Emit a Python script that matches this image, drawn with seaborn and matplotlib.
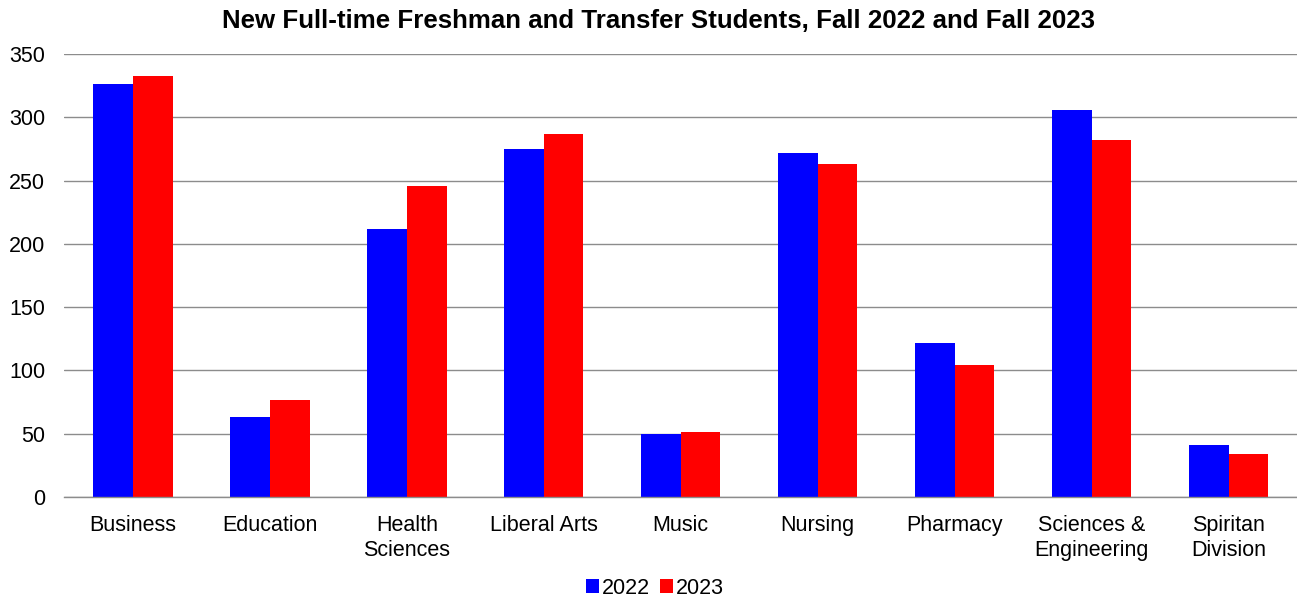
import matplotlib
matplotlib.use("Agg")
import matplotlib.pyplot as plt
import seaborn as sns
import pandas as pd
import numpy as np

categories = ["Business", "Education", "Health\nSciences", "Liberal Arts", "Music",
              "Nursing", "Pharmacy", "Sciences &\nEngineering", "Spiritan\nDivision"]
values_2022 = [326, 63, 212, 275, 50, 272, 122, 306, 41]
values_2023 = [333, 77, 246, 287, 51, 263, 104, 282, 34]
series_names = ["2022", "2023"]
colors = ["#0000FF", "#FF0000"]
yticks = [0, 50, 100, 150, 200, 250, 300, 350]
title = "New Full-time Freshman and Transfer Students, Fall 2022 and Fall 2023"

df = pd.DataFrame({
    "category": categories * 2,
    "value": values_2022 + values_2023,
    "year": [series_names[0]] * len(categories) + [series_names[1]] * len(categories),
})

sns.set_theme(style="white")
plt.rcParams["font.family"] = ["Liberation Sans", "DejaVu Sans"]
plt.rcParams["text.color"] = "black"
plt.rcParams["xtick.color"] = "black"
plt.rcParams["ytick.color"] = "black"
plt.rcParams["xtick.labelcolor"] = "black"
plt.rcParams["ytick.labelcolor"] = "black"

fig = plt.figure(figsize=(12.97, 5.97), dpi=100)
ax = fig.add_axes([0.0497, 0.1675, 0.9503, 0.742])

sns.barplot(data=df, x="category", y="value", hue="year", palette=colors,
            width=0.58, gap=0, saturation=1, ax=ax, legend=True, linewidth=0)

ax.set_xlim(-0.5, len(categories) - 0.5)
ax.set_ylim(0, 350)
ax.set_yticks(yticks)
ax.set_yticklabels([str(t) for t in yticks], fontsize=15.5)
ax.yaxis.grid(True, color="#8c8c8c", linewidth=1.0)
ax.set_axisbelow(True)
ax.tick_params(axis="y", length=0, pad=14)
ax.set_xticks(range(len(categories)))
ax.set_xticklabels(categories, fontsize=15.5, linespacing=1.25)
ax.tick_params(axis="x", which="major", length=0, pad=13)
ax.set_xticks(np.arange(-0.5, len(categories), 1.0), minor=True)
ax.tick_params(axis="x", which="minor", length=6, color="#8c8c8c", width=1, direction="out")
ax.set_xlabel("")
ax.set_ylabel("")
for s in ["left", "top", "right"]:
    ax.spines[s].set_visible(False)
ax.spines["bottom"].set_color("#8c8c8c")
ax.spines["bottom"].set_linewidth(1)

fig.suptitle(title, fontsize=18.6, fontweight="bold", x=0.508, y=0.985, color="black")

handles, labels = ax.get_legend_handles_labels()
ax.get_legend().remove()
fig.legend(handles, labels, loc="lower center", bbox_to_anchor=(0.505, -0.035), ncol=2,
           frameon=False, fontsize=15.5, handlelength=0.6, handleheight=0.6,
           handletextpad=0.1, columnspacing=0.5)

fig.savefig("out.png", dpi=100)
